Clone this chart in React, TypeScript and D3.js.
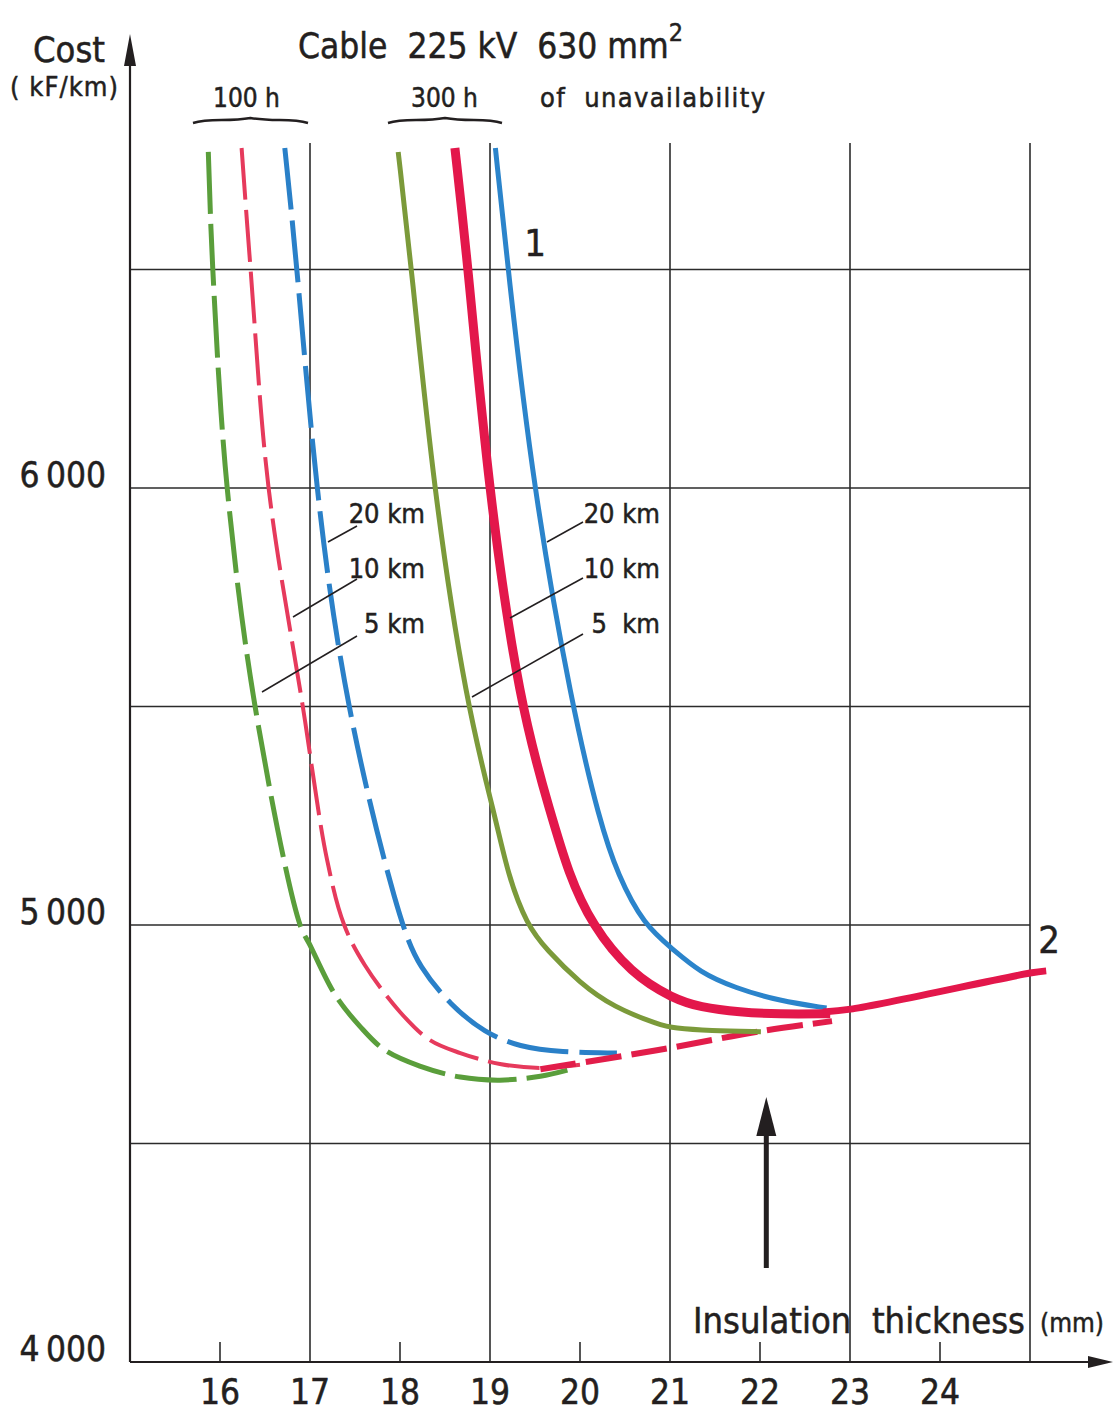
import React from 'react';
import * as d3 from 'd3';

// insulation thickness (mm), cost (kF/km)
const green100h: [number, number][] = [
  [15.87, 6769], [15.92, 6500], [16.08, 6000], [16.39, 5500], [16.89, 5000],
  [17.0, 4954], [17.28, 4840], [17.56, 4767], [17.83, 4714], [18.22, 4677],
  [18.67, 4652], [19.11, 4645], [19.56, 4654], [19.86, 4668],
];
const red100h: [number, number][] = [
  [16.24, 6778], [16.34, 6500], [16.54, 6000], [16.92, 5500], [17.19, 5149],
  [17.38, 5000], [17.61, 4908], [18.0, 4801], [18.33, 4737], [18.67, 4707],
  [19.11, 4682], [19.56, 4673], [20.0, 4680],
];
const blue100h: [number, number][] = [
  [16.72, 6778], [16.86, 6500], [17.06, 6000], [17.39, 5500], [18.0, 5000],
  [18.22, 4902], [18.56, 4817], [18.94, 4753], [19.33, 4721], [19.78, 4709],
  [20.41, 4707],
];
const green300h: [number, number][] = [
  [17.98, 6769], [18.13, 6500], [18.37, 6000], [18.74, 5500], [19.06, 5247],
  [19.2, 5114], [19.41, 5000], [19.63, 4943], [20.0, 4867], [20.37, 4812],
  [20.89, 4771], [21.04, 4764], [21.44, 4758], [22.01, 4756],
];
const red300h: [number, number][] = [
  [18.61, 6778], [18.76, 6500], [18.98, 6000], [19.33, 5500], [19.68, 5252],
  [19.87, 5119], [20.13, 5000], [20.57, 4888], [21.04, 4831], [21.33, 4812],
  [21.78, 4800], [22.2, 4796], [22.78, 4797],
];
const blue300h: [number, number][] = [
  [19.06, 6778], [19.2, 6500], [19.48, 6000], [19.91, 5500], [20.22, 5236],
  [20.42, 5114], [20.71, 5000], [21.04, 4943], [21.33, 4892], [21.72, 4856],
  [22.22, 4826], [22.74, 4810],
];
// locus of the minima: dashed part (100 h) and line 2
const minima100h: [number, number][] = [
  [19.56, 4670], [20.87, 4714], [22.01, 4757], [22.8, 4780],
];
const line2: [number, number][] = [
  [22.7, 4801], [23.03, 4808], [25.0, 4890], [25.18, 4895],
];

const xTicks = [16, 17, 18, 19, 20, 21, 22, 23, 24];
const xGrid = [17, 19, 21, 23, 25];
const xMinor = [16, 18, 20, 22, 24];
const yGrid = [4500, 5000, 5500, 6000, 6500];
const yLabels = ['4\u2009000', '5\u2009000', '6\u2009000'];
const yLabelValues = [4000, 5000, 6000];
const kmLabels = ['20 km', '10 km', '5 km'];
const kmLabels300 = ['20 km', '10 km', '5 \u00a0km'];

const FONT = "'DejaVu Sans Condensed', 'Liberation Sans Narrow', 'DejaVu Sans', sans-serif";
const INK = '#231f20';

const x = d3.scaleLinear().domain([15, 25]).range([130, 1030]);
const y = d3.scaleLinear().domain([4000, 7000]).range([1362, 51]);

// curves with a minimum go through Catmull-Rom, the steep ones are smoothed with a B-spline
const lineRound = d3.line<[number, number]>()
  .x(d => x(d[0]))
  .y(d => y(d[1]))
  .curve(d3.curveCatmullRom.alpha(0.5));
const lineSmooth = d3.line<[number, number]>()
  .x(d => x(d[0]))
  .y(d => y(d[1]))
  .curve(d3.curveBasis);

const curves = [
  { data: green100h, color: '#5a9e3b', width: 5, dash: '62 10', gen: lineRound },
  { data: red100h, color: '#e63a5c', width: 4, dash: '52 10', gen: lineRound },
  { data: blue100h, color: '#2a80c8', width: 5, dash: '62 11', gen: lineSmooth },
  { data: minima100h, color: '#e21d4a', width: 6, dash: '36 10', gen: lineRound },
  { data: green300h, color: '#7b9a3a', width: 5, dash: null, gen: lineSmooth },
  { data: blue300h, color: '#2b84cb', width: 5, dash: null, gen: lineSmooth },
  { data: red300h, color: '#e3174b', width: 9, dash: null, gen: lineSmooth },
  { data: line2, color: '#e3174b', width: 7, dash: null, gen: lineRound },
];

// brace under the unavailability labels
const brace = (x0: number, x1: number, yb: number) => {
  const m = (x0 + x1) / 2;
  const w = x1 - x0;
  return `M${x0},${yb + 2} C${x0 + w * 0.15},${yb - 3} ${m - w * 0.2},${yb + 1} ${m},${yb - 3} ` +
    `C${m + w * 0.2},${yb + 1} ${x1 - w * 0.15},${yb - 3} ${x1},${yb + 2}`;
};

const App = () => {
  const x0 = x(15);
  const y0 = y(4000);
  return (
    <svg width={1114} height={1411} style={{ position: 'absolute', left: 0, top: 0, background: '#fff' }}
      fontFamily={FONT}>
      {/* grid */}
      {yGrid.map(v => (
        <line key={'h' + v} x1={x0} x2={x(25)} y1={y(v)} y2={y(v)} stroke="#2b2b2b" strokeWidth={1.6} />
      ))}
      {xGrid.map(v => (
        <line key={'v' + v} x1={x(v)} x2={x(v)} y1={143} y2={y0} stroke="#2b2b2b" strokeWidth={1.6} />
      ))}
      {xMinor.map(v => (
        <line key={'m' + v} x1={x(v)} x2={x(v)} y1={y0 - 20} y2={y0} stroke="#2b2b2b" strokeWidth={1.6} />
      ))}

      {/* axes */}
      <line x1={x0} x2={x0} y1={y0} y2={50} stroke={INK} strokeWidth={2.2} />
      <polygon points={`${x0 - 6},${66} ${x0},${34} ${x0 + 6},${66}`} fill={INK} />
      <line x1={x0} x2={1095} y1={y0} y2={y0} stroke={INK} strokeWidth={2.2} />
      <polygon points={`${1088},${y0 - 6} ${1113},${y0} ${1088},${y0 + 6}`} fill={INK} />

      {/* curves */}
      {curves.map((c, i) => (
        <path key={i} d={c.gen(c.data) || ''} fill="none" stroke={c.color} strokeWidth={c.width}
          strokeDasharray={c.dash || undefined} strokeLinecap="butt" strokeLinejoin="round" />
      ))}

      {/* leader lines for the km labels */}
      <g stroke={INK} strokeWidth={1.5}>
        <line x1={328} y1={542} x2={357} y2={526} />
        <line x1={293} y1={617} x2={357} y2={579} />
        <line x1={262} y1={692} x2={357} y2={636} />
        <line x1={547} y1={542} x2={583} y2={522} />
        <line x1={510} y1={618} x2={583} y2={578} />
        <line x1={472} y1={697} x2={583} y2={634} />
      </g>

      <g fill={INK} stroke={INK} strokeWidth={0.5}>
        {kmLabels.map((t, i) => (
          <text key={'a' + t} x={425} y={523 + i * 55} fontSize={27} textAnchor="end">{t}</text>
        ))}
        {kmLabels300.map((t, i) => (
          <text key={'b' + t} x={660} y={523 + i * 55} fontSize={27} textAnchor="end">{t}</text>
        ))}

        {/* axis labels */}
        {xTicks.map(v => (
          <text key={v} x={x(v)} y={1404} fontSize={35} textAnchor="middle">{v}</text>
        ))}
        {yLabelValues.map((v, i) => (
          <text key={v} x={106} y={y(v) - 1} fontSize={35} textAnchor="end">{yLabels[i]}</text>
        ))}
        <text x={69} y={62} fontSize={36} textAnchor="middle">Cost</text>
        <text x={10} y={96} fontSize={27} textLength={108} lengthAdjust="spacing">( kF/km)</text>
        <text x={298} y={58} fontSize={35}>{'Cable \u00a0225 kV \u00a0630 mm'}<tspan dy={-17} fontSize={25}>2</tspan></text>
        <text x={213} y={107} fontSize={26}>100 h</text>
        <text x={411} y={107} fontSize={26}>300 h</text>
        <text x={540} y={107} fontSize={27} textLength={225} lengthAdjust="spacing">{'of \u00a0unavailability'}</text>
        <text x={693} y={1333} fontSize={36}>{'Insulation \u00a0thickness'}</text>
        <text x={1040} y={1332} fontSize={26}>(mm)</text>
        <text x={535} y={256} fontSize={38} textAnchor="middle">1</text>
        <text x={1049} y={953} fontSize={38} textAnchor="middle">2</text>
      </g>
      <path d={brace(193, 308, 121)} fill="none" stroke={INK} strokeWidth={2.5} />
      <path d={brace(388, 502, 121)} fill="none" stroke={INK} strokeWidth={2.5} />

      {/* arrow marking the optimum */}
      <line x1={x(22.07)} x2={x(22.07)} y1={1268} y2={1125} stroke={INK} strokeWidth={5} />
      <polygon points={`${x(22.07) - 10},${1136} ${x(22.07)},${1097} ${x(22.07) + 10},${1136}`} fill={INK} />
    </svg>
  );
};

export default App;
